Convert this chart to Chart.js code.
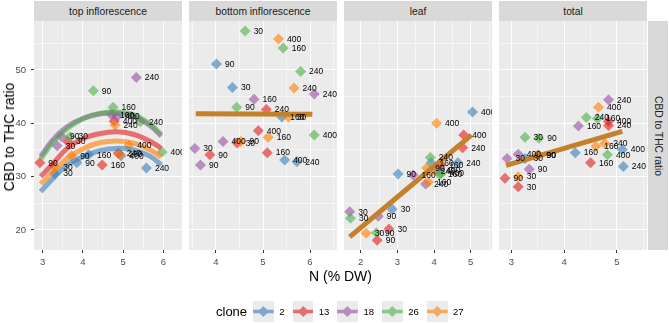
<!DOCTYPE html>
<html>
<head>
<meta charset="utf-8">
<script src="https://cdn.jsdelivr.net/npm/chart.js@4.4.1/dist/chart.umd.min.js"></script>
<style>
html,body{margin:0;padding:0;background:#fff;}
#wrap{position:relative;width:669px;height:323px;overflow:hidden;font-family:"Liberation Sans",Arial,Helvetica,sans-serif;}
canvas.cv{position:absolute;}
.strip{position:absolute;background:#D9D9D9;color:#1A1A1A;font-size:10.3px;display:flex;align-items:center;justify-content:center;white-space:nowrap;}
.vstrip{writing-mode:vertical-rl;}
.title{position:absolute;font-size:14px;color:#000;white-space:nowrap;transform:translate(-50%,-50%);}
#legend{position:absolute;left:216px;top:301px;height:21px;display:flex;align-items:center;}
#legend .lt{font-size:13px;color:#000;margin-right:6px;}
#legend .key{width:20.7px;height:21px;background:#EBEBEB;display:block;}
#legend .lab{font-size:9.5px;color:#000;margin-left:5.5px;margin-right:8px;}
</style>
</head>
<body>
<div id="wrap"></div>
<script>
// ---------------- data ----------------
const doses = [30, 90, 160, 240, 400];
const clones = ['2', '13', '18', '26', '27'];
const panelTitles = ['top inflorescence', 'bottom inflorescence', 'leaf', 'total'];
const yMajor = [20, 30, 40, 50];
const yMinor = [25, 35, 45, 55];

// rows = clones (2, 13, 18, 26, 27); columns = doses (30, 90, 160, 240, 400)
const topN = [
  [3.30, 3.85, 4.14, 5.58, 4.95],
  [3.62, 2.93, 4.48, 4.88, 4.78],
  [3.36, 3.47, 4.71, 5.33, 4.85],
  [3.68, 4.26, 4.75, 5.43, 5.97],
  [3.30, 3.72, 4.92, 4.80, 5.14]
];
const topRatio = [
  [30.6, 32.6, 34.1, 31.6, 33.9],
  [36.6, 32.6, 32.2, 34.4, 40.4],
  [35.8, 37.5, 41.6, 48.6, 41.3],
  [37.5, 46.1, 43.0, 40.3, 34.6],
  [31.8, 33.9, 34.2, 39.7, 35.9]
];
const topFitN = [2.95, 3.25, 3.61, 4.02, 4.44, 4.85, 5.27, 5.68, 5.95];
const topFitRatio = [
  [27.2, 29.6, 32.2, 33.8, 34.9, 35.3, 35.0, 33.8, 32.2],
  [30.0, 32.4, 35.3, 37.2, 38.1, 38.4, 37.9, 36.6, 35.3],
  [33.8, 36.9, 39.4, 41.0, 41.8, 41.9, 41.3, 39.5, 37.6],
  [33.3, 36.4, 39.0, 40.9, 41.9, 42.1, 41.6, 39.8, 37.9],
  [28.6, 30.9, 33.4, 35.3, 36.4, 36.7, 36.3, 35.0, 33.7]
];

const bottomN = [
  [4.35, 4.01, 5.40, 5.72, 5.46],
  [4.45, 3.87, 5.09, 5.07, 4.90],
  [3.55, 3.67, 4.81, 6.09, 4.15],
  [4.62, 4.44, 5.43, 5.80, 6.09],
  [5.54, 4.53, 5.11, 5.66, 5.33]
];
const bottomRatio = [
  [46.7, 51.1, 41.2, 32.8, 33.1],
  [36.3, 34.1, 34.5, 42.6, 38.6],
  [35.3, 32.2, 44.5, 45.5, 36.6],
  [57.3, 43.0, 54.1, 49.7, 37.8],
  [41.2, 36.6, 37.4, 46.6, 55.8]
];
const bottomFitN = [3.57, 6.05];
const bottomFitRatio = [41.8, 41.7];

const leafN = [
  [2.86, 3.02, 3.92, 4.65, 5.05],
  [2.77, 2.45, 4.18, 4.78, 4.81],
  [1.70, 2.48, 3.43, 3.77, 4.10],
  [1.72, 2.43, 4.15, 3.90, 4.20],
  [2.15, 3.80, 3.85, 3.95, 4.07]
];
const leafRatio = [
  [23.9, 30.5, 32.6, 32.6, 42.1],
  [20.2, 18.1, 32.2, 35.4, 37.8],
  [23.4, 22.6, 30.3, 28.6, 31.2],
  [22.2, 19.5, 30.4, 33.6, 30.6],
  [19.4, 31.6, 29.0, 31.0, 40.0]
];
const leafFitN = [1.70, 5.02];
const leafFitRatio = [18.7, 37.8];

const totalN = [
  [3.26, 3.51, 4.21, 5.12, 5.10],
  [3.13, 2.88, 4.50, 4.84, 4.84],
  [2.92, 3.34, 4.27, 4.84, 3.13],
  [3.26, 3.52, 4.63, 4.42, 4.82],
  [3.13, 3.50, 4.60, 4.77, 4.65]
];
const totalRatio = [
  [33.4, 34.1, 34.5, 31.9, 35.1],
  [28.1, 29.7, 32.6, 39.6, 40.4],
  [33.4, 31.4, 39.5, 44.4, 34.2],
  [37.4, 37.2, 40.9, 41.1, 34.1],
  [30.0, 34.0, 35.7, 36.2, 43.0]
];
const totalFitN = [2.90, 5.10];
const totalFitRatio = [32.1, 38.5];

const xMajors = [[3, 4, 5, 6], [4, 5, 6], [2, 3, 4, 5], [3, 4, 5]];
const xMinors = [[3.5, 4.5, 5.5], [3.5, 4.5, 5.5, 6.5], [2.5, 3.5, 4.5, 5.5], [3.5, 4.5, 5.5]];

// ---------------- style / layout ----------------
const FAMILY = '"Liberation Sans", Arial, Helvetica, sans-serif';
const cloneRGB = ['55,126,184', '228,26,28', '152,78,163', '77,175,74', '255,127,0'];
const fitColor = 'rgb(197,128,43)';
const panelLeft = [34, 189, 344, 499];
const panelW = 148, plotTop = 21, plotH = 229, xAxisH = 21, yAxisW = 34;
const xRange = [[2.784, 6.465], [3.426, 6.574], [1.545, 5.581], [2.767, 5.568]];
const yRange = [16.25, 59.18];

const wrap = document.getElementById('wrap');

const bgPlugin = {
  id: 'panelBg',
  beforeDraw(chart) {
    const a = chart.chartArea, ctx = chart.ctx;
    ctx.save();
    ctx.fillStyle = '#EBEBEB';
    ctx.fillRect(a.left, a.top, a.right - a.left, a.bottom - a.top);
    ctx.restore();
  }
};
const labelPlugin = {
  id: 'doseLabels',
  afterDatasetsDraw(chart) {
    const a = chart.chartArea, ctx = chart.ctx;
    ctx.save();
    ctx.beginPath();
    ctx.rect(a.left, a.top, a.right - a.left, a.bottom - a.top);
    ctx.clip();
    ctx.font = '8.5px ' + FAMILY;
    ctx.fillStyle = '#000';
    ctx.textAlign = 'left';
    ctx.textBaseline = 'middle';
    chart.data.datasets.forEach((ds, i) => {
      if (!ds.isPoints) return;
      const meta = chart.getDatasetMeta(i);
      meta.data.forEach((el, j) => {
        ctx.fillText(String(ds.data[j].dose), el.x + 8.5, el.y + 0.5);
      });
    });
    ctx.restore();
  }
};

function zeroPad(s) { s.paddingLeft = 0; s.paddingRight = 0; s.paddingTop = 0; s.paddingBottom = 0; }

function buildPanel(p, nRows, rRows, fits) {
  const showY = p === 0;
  const cv = document.createElement('canvas');
  cv.className = 'cv';
  const w = panelW + (showY ? yAxisW : 0);
  const h = plotH + xAxisH;
  cv.width = w; cv.height = h;
  cv.style.left = (panelLeft[p] - (showY ? yAxisW : 0)) + 'px';
  cv.style.top = plotTop + 'px';
  cv.style.width = w + 'px'; cv.style.height = h + 'px';
  wrap.appendChild(cv);

  const datasets = [];
  clones.forEach((c, ci) => {
    datasets.push({
      isPoints: true,
      label: 'clone ' + c,
      data: nRows[ci].map((x, j) => ({ x: x, y: rRows[ci][j], dose: doses[j] })),
      pointStyle: 'rectRot',
      pointRadius: 5.5,
      pointHoverRadius: 5.5,
      backgroundColor: 'rgba(' + cloneRGB[ci] + ',0.6)',
      borderWidth: 0,
      showLine: false,
      order: 30 - ci
    });
  });
  fits.forEach((f, k) => {
    datasets.push({
      label: 'fit' + k,
      data: f.n.map((x, j) => ({ x: x, y: f.r[j] })),
      showLine: true,
      borderColor: f.color,
      borderWidth: 5,
      pointRadius: 0,
      tension: 0.35,
      fill: false,
      order: 20 - k
    });
  });

  const xTicks = xMajors[p].concat(xMinors[p]).sort((a, b) => a - b);
  const yTicks = yMajor.concat(yMinor).sort((a, b) => a - b);
  const isXMajor = v => xMajors[p].includes(v);
  const isYMajor = v => yMajor.includes(v);

  new Chart(cv, {
    type: 'scatter',
    data: { datasets: datasets },
    options: {
      responsive: false,
      maintainAspectRatio: false,
      animation: false,
      devicePixelRatio: 1,
      layout: { padding: 0, autoPadding: false },
      plugins: { legend: { display: false }, tooltip: { enabled: false }, title: { display: false } },
      events: [],
      scales: {
        x: {
          type: 'linear', min: xRange[p][0], max: xRange[p][1],
          afterBuildTicks: s => { s.ticks = xTicks.map(v => ({ value: v })); },
          afterFit: s => { s.height = xAxisH; zeroPad(s); },
          ticks: {
            autoSkip: false, maxRotation: 0, padding: 4,
            color: '#4D4D4D', font: { size: 9.5, family: FAMILY },
            callback: v => isXMajor(v) ? String(v) : ''
          },
          grid: {
            color: '#FFFFFF',
            lineWidth: c => (c.tick && isXMajor(c.tick.value)) ? 1 : 0.5,
            tickColor: c => (c.tick && isXMajor(c.tick.value)) ? '#333333' : 'rgba(0,0,0,0)',
            tickLength: 3, tickWidth: 1
          },
          border: { display: false }
        },
        y: {
          type: 'linear', min: yRange[0], max: yRange[1],
          afterBuildTicks: s => { s.ticks = yTicks.map(v => ({ value: v })); },
          afterFit: s => { s.width = showY ? yAxisW : 0; zeroPad(s); },
          ticks: {
            display: showY, autoSkip: false, padding: 5,
            color: '#4D4D4D', font: { size: 9.5, family: FAMILY },
            callback: v => isYMajor(v) ? String(v) : ''
          },
          grid: {
            color: '#FFFFFF',
            lineWidth: c => (c.tick && isYMajor(c.tick.value)) ? 1 : 0.5,
            tickColor: c => (showY && c.tick && isYMajor(c.tick.value)) ? '#333333' : 'rgba(0,0,0,0)',
            drawTicks: showY, tickLength: 3, tickWidth: 1
          },
          border: { display: false }
        }
      }
    },
    plugins: [bgPlugin, labelPlugin]
  });

  const st = document.createElement('div');
  st.className = 'strip';
  st.style.left = panelLeft[p] + 'px';
  st.style.top = '1px';
  st.style.width = panelW + 'px';
  st.style.height = '20px';
  st.textContent = panelTitles[p];
  wrap.appendChild(st);
}

buildPanel(0, topN, topRatio,
  topFitRatio.map((r, ci) => ({ n: topFitN, r: r, color: 'rgba(' + cloneRGB[ci] + ',0.6)' })));
buildPanel(1, bottomN, bottomRatio, [{ n: bottomFitN, r: bottomFitRatio, color: fitColor }]);
buildPanel(2, leafN, leafRatio, [{ n: leafFitN, r: leafFitRatio, color: fitColor }]);
buildPanel(3, totalN, totalRatio, [{ n: totalFitN, r: totalFitRatio, color: fitColor }]);

// right strip
const rs = document.createElement('div');
rs.className = 'strip vstrip';
rs.style.left = '648px'; rs.style.top = plotTop + 'px';
rs.style.width = '20px'; rs.style.height = plotH + 'px';
rs.textContent = 'CBD to THC ratio';
wrap.appendChild(rs);

// axis titles
const yt = document.createElement('div');
yt.className = 'title';
yt.style.left = '9px'; yt.style.top = '137px';
yt.style.transform = 'translate(-50%,-50%) rotate(-90deg)';
yt.textContent = 'CBD to THC ratio';
wrap.appendChild(yt);

const xt = document.createElement('div');
xt.className = 'title';
xt.style.left = '340.5px'; xt.style.top = '276px';
xt.textContent = 'N (% DW)';
wrap.appendChild(xt);

// legend
const lg = document.createElement('div');
lg.id = 'legend';
let html = '<span class="lt">clone</span>';
clones.forEach((c, ci) => {
  html += '<svg class="key" width="21" height="21" viewBox="0 0 21 21"><rect width="21" height="21" fill="#EBEBEB"/>' +
    '<g opacity="0.6" fill="rgb(' + cloneRGB[ci] + ')"><rect x="0" y="8.7" width="21" height="3.6"/>' +
    '<polygon points="10.5,5 16,10.5 10.5,16 5,10.5"/></g></svg>' +
    '<span class="lab">' + c + '</span>';
});
lg.innerHTML = html;
wrap.appendChild(lg);
</script>
</body>
</html>
